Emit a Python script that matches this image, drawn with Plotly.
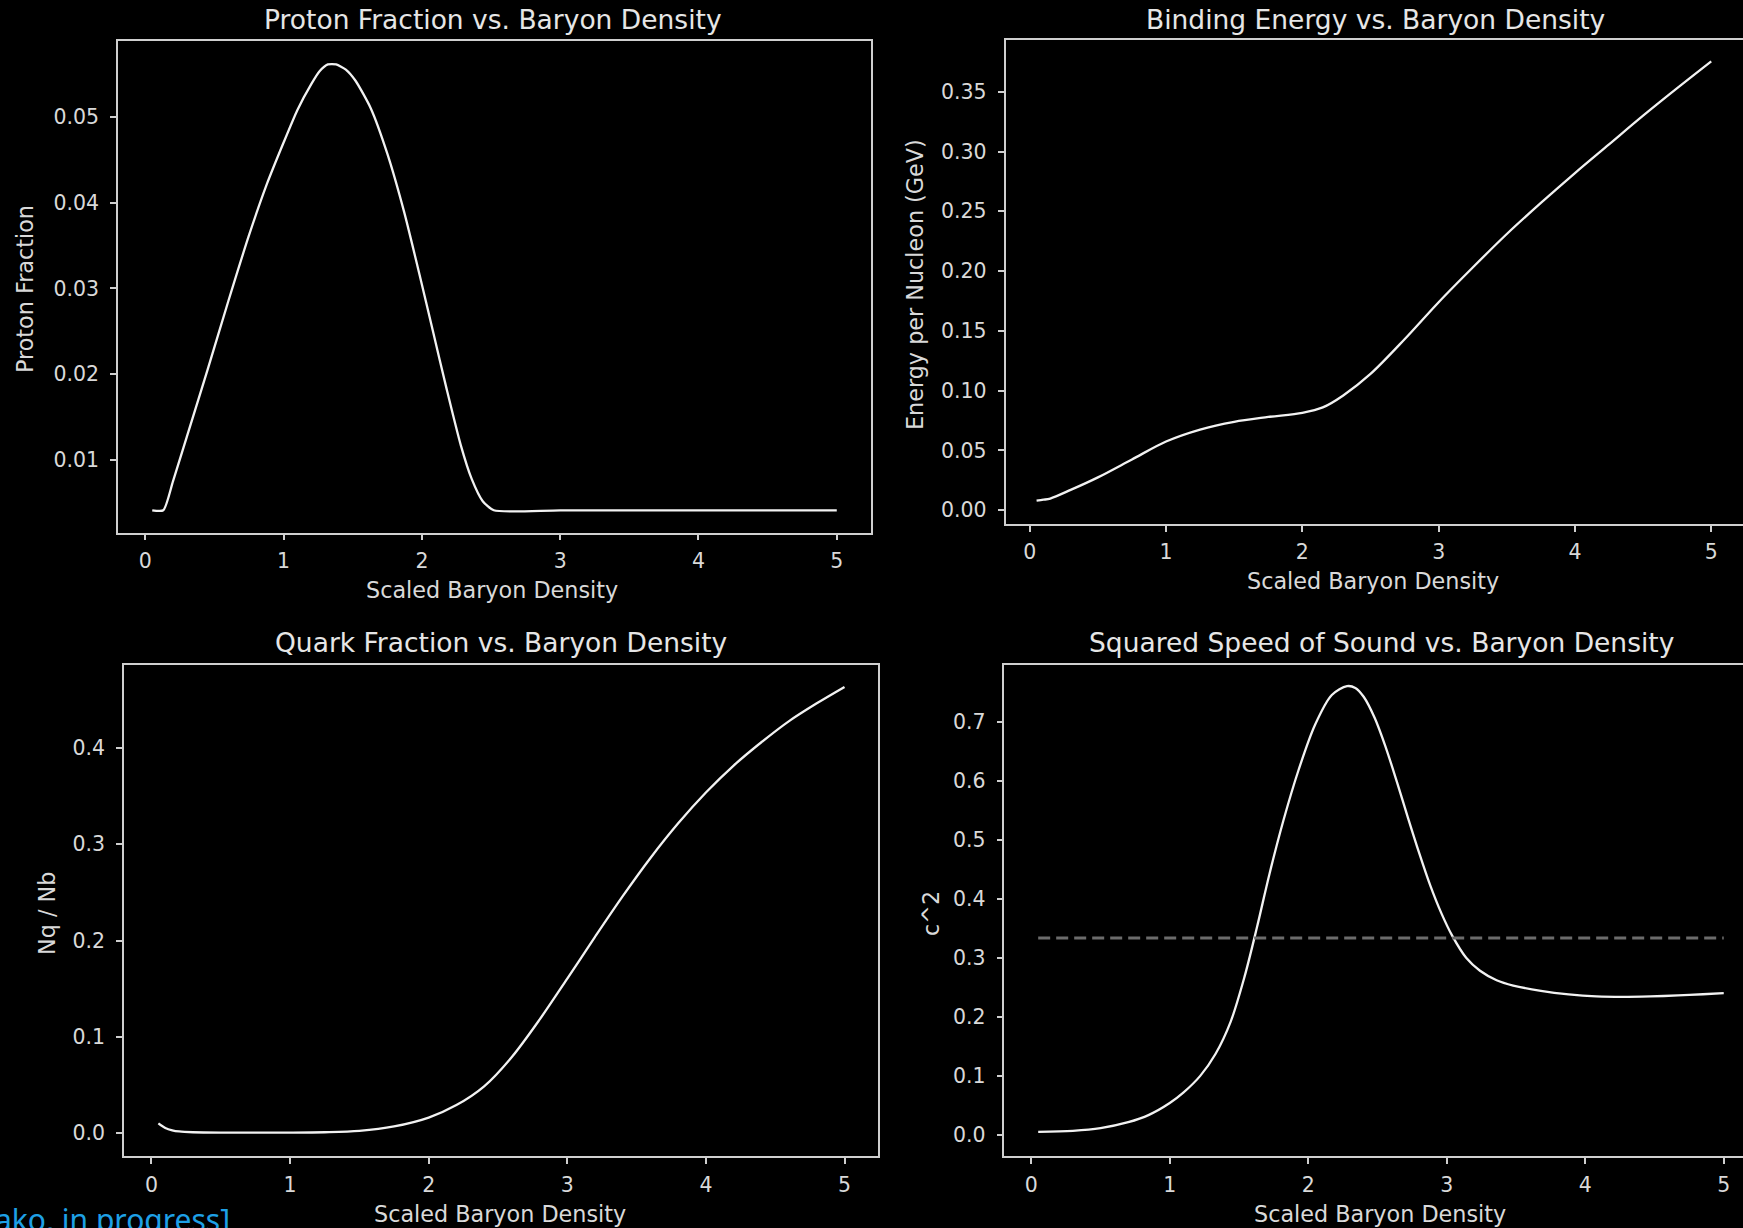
import plotly.graph_objects as go

# ---- data -------------------------------------------------------------
proton_x = [0.05, 0.13, 0.20, 0.30, 0.45, 0.60, 0.75, 0.88, 1.00, 1.10, 1.20,
            1.26, 1.32, 1.38, 1.45, 1.52, 1.63, 1.75, 1.87, 1.98, 2.08, 2.18,
            2.28, 2.36, 2.44, 2.52, 3.0, 4.0, 5.0]
proton_y = [0.00414, 0.00414, 0.0075, 0.0127, 0.0205, 0.0285, 0.0362, 0.0422,
            0.0470, 0.0508, 0.0538, 0.0553, 0.0561, 0.0561, 0.0555, 0.0542,
            0.0510, 0.0457, 0.0390, 0.0318, 0.0250, 0.0182, 0.0118, 0.0078,
            0.0052, 0.00414, 0.00414, 0.00414, 0.00414]

energy_x = [0.05, 0.10, 0.15, 0.30, 0.50, 0.75, 1.00, 1.25, 1.50, 1.75, 2.00,
            2.15, 2.30, 2.50, 2.75, 3.00, 3.25, 3.50, 3.75, 4.00, 4.25, 4.50,
            4.75, 5.00]
energy_y = [0.0080, 0.0088, 0.0098, 0.0170, 0.0275, 0.0425, 0.0575, 0.0675,
            0.0740, 0.0780, 0.0815, 0.0860, 0.0960, 0.1140, 0.1430, 0.1740,
            0.2030, 0.2310, 0.2570, 0.2820, 0.3060, 0.3300, 0.3530, 0.3754]

quark_x = [0.05, 0.10, 0.15, 0.20, 0.30, 0.50, 1.00, 1.25, 1.50, 1.75, 2.00,
           2.20, 2.40, 2.60, 2.80, 3.00, 3.20, 3.40, 3.60, 3.80, 4.00, 4.20,
           4.40, 4.60, 4.80, 5.00]
quark_y = [0.0100, 0.0052, 0.0028, 0.0016, 0.0008, 0.0004, 0.0004, 0.0008,
           0.0022, 0.0068, 0.0160, 0.0290, 0.0485, 0.0790, 0.1178, 0.1604,
           0.2038, 0.2461, 0.2858, 0.3218, 0.3538, 0.3818, 0.4060, 0.4280,
           0.4465, 0.4635]

sound_x = [0.05, 0.30, 0.50, 0.70, 0.85, 1.00, 1.10, 1.22, 1.33, 1.44, 1.54,
           1.63, 1.72, 1.82, 1.93, 2.05, 2.17, 2.28, 2.34, 2.40, 2.48, 2.56,
           2.64, 2.72, 2.80, 2.88, 2.96, 3.04, 3.14, 3.24, 3.36, 3.48, 3.68,
           3.88, 4.08, 4.27, 4.47, 4.67, 4.85, 5.00]
sound_y = [0.0052, 0.0070, 0.0115, 0.0215, 0.0340, 0.0540, 0.0720, 0.1000,
           0.1370, 0.1920, 0.2680, 0.3520, 0.4420, 0.5320, 0.6180, 0.6950,
           0.7450, 0.7600, 0.7570, 0.7420, 0.7060, 0.6560, 0.5980, 0.5370,
           0.4780, 0.4230, 0.3760, 0.3370, 0.3000, 0.2780, 0.2620, 0.2530,
           0.2440, 0.2380, 0.2345, 0.2337, 0.2345, 0.2362, 0.2382, 0.2403]

# conformal limit c^2 = 1/3
conformal_x = [0.05, 5.0]
conformal_y = [1 / 3, 1 / 3]

x_ticks = [0, 1, 2, 3, 4, 5]
x_ticktext = ["0", "1", "2", "3", "4", "5"]
proton_ticks = [0.01, 0.02, 0.03, 0.04, 0.05]
proton_ticktext = ["0.01", "0.02", "0.03", "0.04", "0.05"]
energy_ticks = [0.00, 0.05, 0.10, 0.15, 0.20, 0.25, 0.30, 0.35]
energy_ticktext = ["0.00", "0.05", "0.10", "0.15", "0.20", "0.25", "0.30", "0.35"]
quark_ticks = [0.0, 0.1, 0.2, 0.3, 0.4]
quark_ticktext = ["0.0", "0.1", "0.2", "0.3", "0.4"]
sound_ticks = [0.0, 0.1, 0.2, 0.3, 0.4, 0.5, 0.6, 0.7]
sound_ticktext = ["0.0", "0.1", "0.2", "0.3", "0.4", "0.5", "0.6", "0.7"]

titles = ["Proton Fraction vs. Baryon Density",
          "Binding Energy vs. Baryon Density",
          "Quark Fraction vs. Baryon Density",
          "Squared Speed of Sound vs. Baryon Density"]
x_label = "Scaled Baryon Density"
y_labels = ["Proton Fraction", "Energy per Nucleon (GeV)", "Nq / Nb", "c^2"]
footer = "ako, in progress]"

# ---- styling ----------------------------------------------------------
W, H = 1743, 1228
FONT = "DejaVu Sans"
FG = "#d9d9d9"
SPINE = "#cfcfcf"
LINE = "#f2f2f2"


def px_x(p):
    return p / W


def px_y(p):
    return 1 - p / H


fig = go.Figure()

series = [(proton_x, proton_y, 0.6), (energy_x, energy_y, 0.9),
          (quark_x, quark_y, 0.9), (sound_x, sound_y, 0.9)]
for i, (xs, ys, smooth) in enumerate(series):
    suffix = "" if i == 0 else str(i + 1)
    fig.add_trace(go.Scatter(x=xs, y=ys, mode="lines",
                             line=dict(color=LINE, width=2.3, shape="spline",
                                       smoothing=smooth),
                             xaxis="x" + suffix, yaxis="y" + suffix,
                             showlegend=False, hoverinfo="skip"))

fig.add_trace(go.Scatter(x=conformal_x, y=conformal_y, mode="lines",
                         line=dict(color="#6c6c6c", width=3, dash="12px,6px"),
                         xaxis="x4", yaxis="y4", showlegend=False,
                         hoverinfo="skip"))

# panel frames in pixels: (left, right, top, bottom), x range, y range
panels = [
    dict(box=(118, 871, 41, 532.6), xr=[-0.1975, 5.2475], yr=[0.00154, 0.05883],
         yt=(proton_ticks, proton_ticktext), right=True),
    dict(box=(1005.5, W, 40.3, 524), xr=[-0.178, 5.233], yr=[-0.0115, 0.393],
         yt=(energy_ticks, energy_ticktext), right=False),
    dict(box=(124, 878.2, 664.6, 1156.3), xr=[-0.198, 5.243], yr=[-0.0242, 0.4867],
         yt=(quark_ticks, quark_ticktext), right=True),
    dict(box=(1004.4, W, 664.6, 1156.3), xr=[-0.194, 5.139], yr=[-0.0362, 0.7965],
         yt=(sound_ticks, sound_ticktext), right=False),
]

axis_common = dict(showline=True, linecolor=SPINE, linewidth=1.6,
                   ticks="outside", ticklen=6, tickwidth=1.5, tickcolor=SPINE,
                   showgrid=False, zeroline=False,
                   tickfont=dict(family=FONT, size=20.5, color=FG))

layout = {}
for i, p in enumerate(panels):
    l, r, t, b = p["box"]
    suffix = "" if i == 0 else str(i + 1)
    layout["xaxis" + suffix] = dict(
        axis_common, domain=[px_x(l), px_x(r)], range=p["xr"],
        anchor="y" + suffix, mirror=True,
        tickvals=x_ticks, ticktext=x_ticktext, ticklabelstandoff=3)
    layout["yaxis" + suffix] = dict(
        axis_common, domain=[px_y(b), px_y(t)], range=p["yr"],
        anchor="x" + suffix, mirror=p["right"],
        tickvals=p["yt"][0], ticktext=p["yt"][1], ticklabelstandoff=7)

annotations = []
# panel titles
for txt, (cx, cy) in zip(titles, [(493, 19), (1375, 19), (501, 642), (1381, 642)]):
    annotations.append(dict(text=txt, x=px_x(cx), y=px_y(cy), xref="paper",
                            yref="paper", showarrow=False, xanchor="center",
                            yanchor="middle",
                            font=dict(family=FONT, size=26.5, color="#e6e6e6")))
# x axis labels
for cx, cy in [(492, 590), (1373, 581), (500, 1214), (1380, 1214)]:
    annotations.append(dict(text=x_label, x=px_x(cx), y=px_y(cy), xref="paper",
                            yref="paper", showarrow=False, xanchor="center",
                            yanchor="middle",
                            font=dict(family=FONT, size=22.3, color=FG)))
# y axis labels
for txt, (cx, cy) in zip(y_labels, [(25, 289), (915, 285), (47, 914), (931, 914)]):
    annotations.append(dict(text=txt, x=px_x(cx), y=px_y(cy), xref="paper",
                            yref="paper", showarrow=False, xanchor="center",
                            yanchor="middle", textangle=-90,
                            font=dict(family=FONT, size=22.3, color=FG)))
# footer note in the lower-left corner
annotations.append(dict(text=footer, x=px_x(232), y=px_y(1197), xref="paper",
                        yref="paper", showarrow=False, xanchor="right",
                        yanchor="top",
                        font=dict(family="Noto Sans", size=30, color="#1ea0e6")))

fig.update_layout(
    width=W, height=H,
    margin=dict(l=0, r=0, t=0, b=0),
    paper_bgcolor="black", plot_bgcolor="black",
    annotations=annotations,
    **layout,
)

fig.write_html("out.html", include_plotlyjs=True, full_html=True,
               config={"displayModeBar": False})
